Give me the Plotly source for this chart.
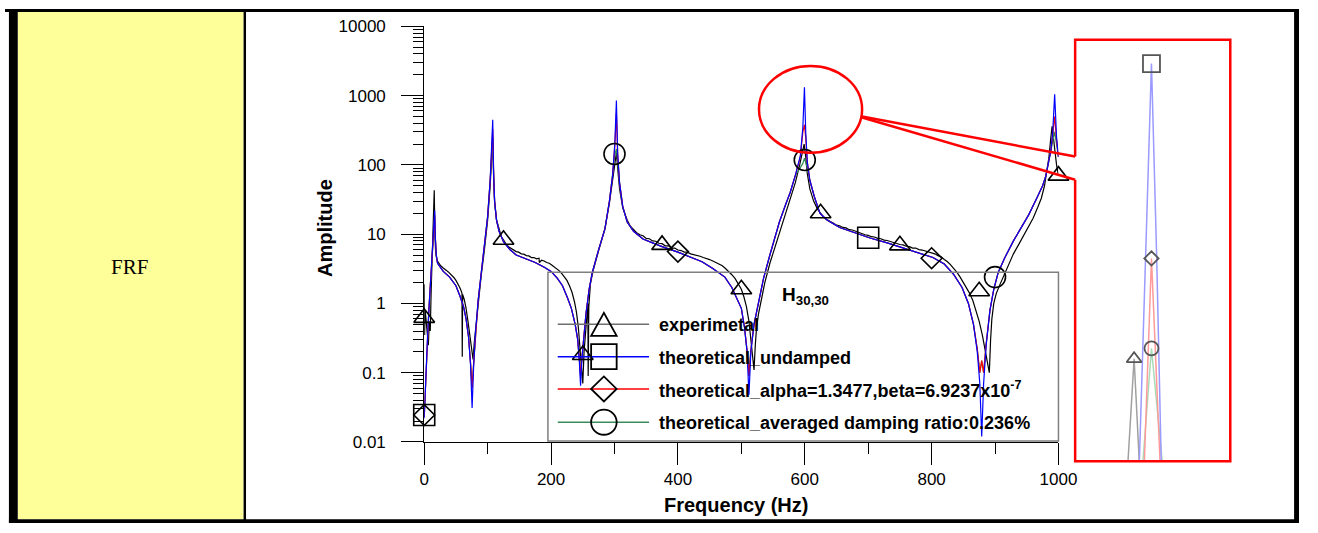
import plotly.graph_objects as go

W, H = 1318, 533

# ---------------- data ----------------
exp_f = [0, 0.6, 1.5, 3, 5, 6.5, 8, 9.5, 11, 13, 14.5, 15.8, 16.8, 18, 20, 23, 26, 29, 32, 35,
         38, 41, 44, 47, 50, 53, 56, 58.5, 59.5, 60, 60.5, 63, 66, 69, 72, 75, 77, 79, 82, 86,
         90, 95, 100, 104, 106.5, 108, 109.5, 111, 114, 118, 122, 125, 129, 133, 137, 141, 145, 149,
         153, 157, 161, 165, 169, 173, 177, 181, 181.5, 185, 189, 193, 197, 201, 205, 209, 213, 217,
         221, 225, 229, 233, 237, 240, 243, 246, 248.5, 250, 252, 255, 258, 258.5, 259.5, 262, 266,
         275, 285, 292, 297, 300.5, 303, 305, 308, 313, 320, 325, 330, 335, 340, 345, 350, 355, 360,
         365, 370, 375, 380, 385, 390, 395, 400, 405, 410, 415, 420, 425, 430, 435, 440, 445, 450,
         455, 460, 465, 470, 475, 480, 485, 490, 495, 500, 504, 508, 512, 515, 518, 520, 522, 524,
         527, 531, 537, 545, 555, 565, 575, 585, 592, 596, 599, 601.5, 604, 608, 614, 620, 624, 628,
         632, 636, 640, 645, 650, 655, 660, 665, 670, 675, 680, 685, 690, 695, 700, 705, 710, 715,
         720, 725, 730, 735, 740, 745, 750, 755, 760, 765, 770, 775, 780, 785, 790, 795, 800, 805,
         810, 815, 820, 825, 830, 835, 840, 845, 850, 855, 860, 865, 870, 875, 880, 884, 888, 891,
         893, 895, 898, 902, 908, 915, 922, 929, 937, 945, 953, 960, 967, 973, 978, 982, 985, 988,
         990, 992, 994, 997, 1000]
exp_a = [1.9, 0.35, 0.8, 0.55, 0.3, 0.25, 0.55, 0.4, 1.6, 5, 15, 43, 10, 5.5, 4.2, 3.8, 3.5, 3.3, 3.1, 3.0,
         2.85, 2.7, 2.55, 2.35, 2.15, 1.95, 1.7, 1.5, 1.4, 0.17, 1.35, 1.15, 0.85, 0.55, 0.33, 0.2, 0.155, 0.28, 0.55, 1.2,
         2.6, 6, 16, 50, 130, 250, 60, 28, 16, 11.5, 9, 8.3, 7.2, 6.6, 6.2, 5.9, 5.6, 5.5,
         5.2, 5.15, 4.9, 4.85, 4.6, 4.6, 4.4, 4.5, 3.9, 4.2, 4.1, 3.9, 3.8, 3.6, 3.4, 3.2, 2.95, 2.7,
         2.45, 2.15, 1.8, 1.45, 1.05, 0.75, 0.45, 0.22, 0.1, 0.07, 0.2, 0.5, 1.0, 0.09, 0.9, 1.9, 2.9,
         5.8, 12, 28, 60, 120, 150, 90, 45, 24, 16, 13, 11.5, 10.5, 9.8, 9.5, 8.7, 8.6, 8,
         7.9, 7.4, 7.3, 6.8, 6.8, 6.3, 6.3, 5.9, 5.8, 5.5, 5.5, 5.2, 5.1, 4.9, 4.8, 4.6, 4.5, 4.3,
         4.1, 3.9, 3.7, 3.5, 3.2, 2.9, 2.6, 2.3, 1.95, 1.6, 1.25, 0.9, 0.55, 0.3, 0.16, 0.11, 0.25, 0.45,
         0.7, 1.1, 2.0, 3.8, 7.5, 14, 28, 55, 100, 150, 200, 130, 75, 45, 30, 23, 20.5, 18.5,
         17, 16, 15.2, 14.5, 13.5, 13.2, 12.5, 12.3, 11.6, 11.5, 11, 10.6, 10.3, 9.8, 9.6, 9.2, 9.1, 8.7,
         8.6, 8.2, 8.1, 7.8, 7.6, 7.3, 7.1, 7.0, 6.7, 6.6, 6.3, 6.3, 6.0, 5.9, 5.7, 5.6, 5.3, 5.2,
         4.9, 4.7, 4.3, 4.0, 3.6, 3.2, 2.8, 2.4, 2.0, 1.7, 1.4, 1.1, 0.8, 0.55, 0.35, 0.22, 0.14, 0.1,
         0.3, 0.6, 1.0, 1.4, 1.9, 2.7, 3.8, 5.2, 7, 9.5, 13, 17, 24, 33, 50, 80, 130, 250,
         360, 250, 160, 100, 70]

theo_f = [0, 1, 3, 5, 7, 9, 11, 13, 15, 16.5, 17.5, 19, 21, 25, 30, 40, 50, 56, 62, 66,
          70, 73, 75.5, 78, 81, 85, 90, 95, 100, 104, 106.5, 108, 109.5, 111, 114, 118, 125, 135, 145, 160,
          175, 190, 200, 210, 218, 226, 232, 238, 242, 244.5, 246.5, 248.5, 251, 255, 260, 265, 275, 285, 292, 297,
          300.5, 303, 305, 308, 313, 320, 330, 345, 360, 375, 400, 420, 438, 455, 474, 485, 493, 500, 505, 509,
          512, 515, 520, 526, 535, 545, 551, 560, 570, 577, 585, 593, 597, 599.5, 601.5, 604, 608, 615, 624, 635,
          655, 680, 703, 730, 751, 775, 802, 820, 835, 848, 858, 866, 872, 876, 879, 882, 886, 892, 898, 905,
          915, 929, 940, 953, 965, 975, 980, 985, 988, 991, 994, 997, 1000]
undamped_a = [0.022, 0.04, 0.12, 0.3, 0.7, 1.5, 3, 6, 12, 22, 9, 5, 3.8, 3.3, 2.9, 2.4, 1.8, 1.3, 0.9, 0.6,
              0.32, 0.13, 0.031, 0.13, 0.4, 1.1, 2.8, 6.5, 18, 60, 180, 450, 70, 30, 16, 11, 7.8, 6, 5, 4.4,
              3.9, 3.3, 2.9, 2.3, 1.8, 1.2, 0.85, 0.5, 0.3, 0.15, 0.065, 0.15, 0.3, 0.7, 1.6, 2.8, 6, 12, 30, 70,
              200, 850, 150, 55, 25, 15, 11, 8.5, 7.5, 6.6, 5.5, 4.6, 4, 3.2, 2.4, 1.7, 1.2, 0.85, 0.45, 0.2,
              0.048, 0.2, 0.5, 0.95, 2.3, 5, 8, 15, 27, 40, 70, 135, 350, 1320, 300, 110, 60, 35, 20, 16,
              12.5, 10.5, 8.8, 7.5, 6.5, 5.6, 4.6, 3.7, 2.6, 1.7, 1.0, 0.5, 0.2, 0.07, 0.012, 0.07, 0.25, 0.8, 1.6, 2.8,
              4.5, 8, 12, 19, 32, 50, 69, 110, 160, 300, 1050, 250, 130]
damped_a = [0.023, 0.04, 0.12, 0.3, 0.7, 1.5, 3, 6, 11.5, 19, 9, 5, 3.8, 3.3, 2.9, 2.4, 1.8, 1.3, 0.9, 0.6,
            0.32, 0.14, 0.06, 0.14, 0.4, 1.1, 2.8, 6.5, 18, 60, 170, 330, 70, 30, 16, 11, 7.8, 6, 5, 4.4,
            3.9, 3.3, 2.9, 2.3, 1.8, 1.2, 0.85, 0.5, 0.3, 0.16, 0.09, 0.16, 0.3, 0.7, 1.6, 2.8, 6, 12, 30, 70,
            190, 560, 140, 55, 25, 15, 11, 8.5, 7.5, 6.6, 5.5, 4.6, 4, 3.2, 2.4, 1.7, 1.2, 0.85, 0.45, 0.21,
            0.09, 0.21, 0.5, 0.95, 2.3, 5, 8, 15, 27, 40, 70, 130, 300, 380, 250, 110, 60, 35, 20, 16,
            12.5, 10.5, 8.8, 7.5, 6.5, 5.6, 4.6, 3.7, 2.6, 1.7, 1.0, 0.5, 0.22, 0.1, 0.15, 0.1, 0.26, 0.8, 1.6, 2.8,
            4.5, 8, 12, 19, 32, 50, 69, 110, 160, 280, 500, 230, 130]
avg_a = [0.023, 0.04, 0.12, 0.3, 0.7, 1.5, 3, 6, 11, 17, 9, 5, 3.8, 3.3, 2.9, 2.4, 1.8, 1.3, 0.9, 0.6,
         0.32, 0.14, 0.06, 0.14, 0.4, 1.1, 2.8, 6.5, 18, 60, 150, 230, 70, 30, 16, 11, 7.8, 6, 5, 4.4,
         3.9, 3.3, 2.9, 2.3, 1.8, 1.2, 0.85, 0.5, 0.3, 0.16, 0.09, 0.16, 0.3, 0.7, 1.6, 2.8, 6, 12, 30, 70,
         140, 170, 110, 55, 25, 15, 11, 8.5, 7.5, 6.6, 5.5, 4.6, 4, 3.2, 2.4, 1.7, 1.2, 0.85, 0.45, 0.21,
         0.09, 0.21, 0.5, 0.95, 2.3, 5, 8, 15, 27, 40, 70, 90, 105, 125, 110, 90, 60, 35, 20, 16,
         12.5, 10.5, 8.8, 7.5, 6.5, 5.6, 4.6, 3.7, 2.6, 1.7, 1.0, 0.5, 0.22, 0.1, 0.15, 0.1, 0.26, 0.8, 1.6, 2.8,
         4.5, 8, 12, 19, 32, 50, 69, 110, 160, 220, 300, 200, 130]

# sparse symbols drawn on each series
exp_mk_f = [0, 125, 250, 375, 500, 625, 750, 875, 1000]
exp_mk_a = [0.62, 8.3, 0.18, 7.0, 1.6, 20, 6.9, 1.5, 70]
und_mk_f = [0, 700]
und_mk_a = [0.0245, 8.9]
dmp_mk_f = [0, 400, 800]
dmp_mk_a = [0.0245, 5.6, 4.5]
avg_mk_f = [300, 600, 900]
avg_mk_a = [144, 118, 2.4]

# zoomed inset around the 600 Hz peak
ins_und_f = [599.411, 599.454, 599.492, 599.525, 599.557]
ins_und_a = [40, 264, 1320, 264, 40]
ins_dmp_f = [599.443, 599.492, 599.551]
ins_dmp_a = [40, 253, 40]
ins_avg_f = [599.430, 599.492, 599.570]
ins_avg_a = [40, 118, 40]
ins_exp_f = [599.335, 599.380, 599.418]
ins_exp_a = [40, 108, 40]

y_tickvals = [0.01, 0.1, 1, 10, 100, 1000, 10000]
y_ticktext = ["0.01", "0.1", "1", "10", "100", "1000", "10000"]
x_tickvals = [0, 200, 400, 600, 800, 1000]
x_ticktext = ["0", "200", "400", "600", "800", "1000"]

legend_names = ["experimetal", "theoretical_undamped",
                "theoretical_alpha=1.3477,beta=6.9237x10<sup>-7</sup>",
                "theoretical_averaged damping ratio:0.236%"]
legend_colors = ["#6e6e6e", "#0000ff", "#ff0000", "#3a8c5c"]

SANS = "Liberation Sans, Arial, sans-serif"
SERIF = "Liberation Serif, Times New Roman, serif"


def px(x):
    return x / W


def py(y):
    return 1 - y / H


fig = go.Figure()

# main curves
fig.add_trace(go.Scatter(x=exp_f, y=exp_a, mode="lines", line=dict(color="black", width=1.2),
                         xaxis="x", yaxis="y", showlegend=False))
fig.add_trace(go.Scatter(x=theo_f, y=avg_a, mode="lines", line=dict(color="#2e8b57", width=1.2),
                         showlegend=False))
fig.add_trace(go.Scatter(x=theo_f, y=damped_a, mode="lines", line=dict(color="red", width=1.2),
                         showlegend=False))
fig.add_trace(go.Scatter(x=theo_f, y=undamped_a, mode="lines", line=dict(color="#0000ff", width=1.2),
                         showlegend=False))

mk_line = dict(color="black", width=1.6)
fig.add_trace(go.Scatter(x=exp_mk_f, y=exp_mk_a, mode="markers", cliponaxis=False, showlegend=False,
                         marker=dict(symbol="triangle-up-open", size=18, color="black", line=mk_line)))
fig.add_trace(go.Scatter(x=und_mk_f, y=und_mk_a, mode="markers", cliponaxis=False, showlegend=False,
                         marker=dict(symbol="square-open", size=21, color="black", line=mk_line)))
fig.add_trace(go.Scatter(x=dmp_mk_f, y=dmp_mk_a, mode="markers", cliponaxis=False, showlegend=False,
                         marker=dict(symbol="diamond-open", size=16, color="black", line=mk_line)))
fig.add_trace(go.Scatter(x=avg_mk_f, y=avg_mk_a, mode="markers", cliponaxis=False, showlegend=False,
                         marker=dict(symbol="circle-open", size=21, color="black", line=mk_line)))

# inset traces
ins_kw = dict(xaxis="x2", yaxis="y2", showlegend=False)
fig.add_trace(go.Scatter(x=ins_exp_f, y=ins_exp_a, mode="lines", line=dict(color="#a0a0a0", width=1.5), **ins_kw))
fig.add_trace(go.Scatter(x=ins_avg_f, y=ins_avg_a, mode="lines", line=dict(color="#a8dcb8", width=1.5), **ins_kw))
fig.add_trace(go.Scatter(x=ins_dmp_f, y=ins_dmp_a, mode="lines", line=dict(color="#ff9a9a", width=1.5), **ins_kw))
fig.add_trace(go.Scatter(x=ins_und_f, y=ins_und_a, mode="lines", line=dict(color="#9a9aff", width=1.5), **ins_kw))
ins_mk = dict(color="#555555", width=1.8)
fig.add_trace(go.Scatter(x=[ins_und_f[2]], y=[ins_und_a[2]], mode="markers", cliponaxis=False,
                         marker=dict(symbol="square-open", size=17, color="#555555", line=ins_mk), **ins_kw))
fig.add_trace(go.Scatter(x=[ins_dmp_f[1]], y=[ins_dmp_a[1]], mode="markers", cliponaxis=False,
                         marker=dict(symbol="diamond-open", size=11, color="#555555", line=ins_mk), **ins_kw))
fig.add_trace(go.Scatter(x=[ins_avg_f[1]], y=[ins_avg_a[1]], mode="markers", cliponaxis=False,
                         marker=dict(symbol="circle-open", size=14, color="#555555", line=ins_mk), **ins_kw))
fig.add_trace(go.Scatter(x=[ins_exp_f[1]], y=[ins_exp_a[1]], mode="markers", cliponaxis=False,
                         marker=dict(symbol="triangle-up-open", size=13, color="#555555", line=ins_mk), **ins_kw))

minor_y = [k * 10 ** d for d in range(-2, 4) for k in range(2, 10)]

shapes = []
# table-like frame
shapes.append(dict(type="rect", xref="paper", yref="paper", x0=px(13), x1=px(243), y0=py(529), y1=py(3),
                   fillcolor="#FFFF99", line=dict(width=0), layer="below"))
for (x0, y0, x1, y1) in [(0, 0, 1318, 3), (4, 0, 13, 533), (1313, 0, 1318, 533), (4, 529, 1318, 533),
                         (243, 0, 245.5, 533)]:
    shapes.append(dict(type="rect", xref="paper", yref="paper", x0=px(x0), x1=px(x1), y0=py(y1), y1=py(y0),
                       fillcolor="black", line=dict(width=0), layer="below"))

# legend box
shapes.append(dict(type="rect", xref="paper", yref="paper", x0=px(553), x1=px(1073), y0=py(448), y1=py(273),
                   line=dict(color="#7f7f7f", width=1.5), fillcolor="rgba(0,0,0,0)"))
rows = [327, 360.5, 394, 428.5]
for ry, col in zip(rows, legend_colors):
    shapes.append(dict(type="line", xref="paper", yref="paper", x0=px(563), x1=px(656), y0=py(ry), y1=py(ry),
                       line=dict(color=col, width=1.5)))
sym = dict(color="black", width=1.8)
cx = 610
r = 13
shapes.append(dict(type="path", xref="paper", yref="paper",
                   path=f"M{px(cx - r)},{py(rows[0] + 12)} L{px(cx + r)},{py(rows[0] + 12)} L{px(cx)},{py(rows[0] - 12)} Z",
                   line=sym))
shapes.append(dict(type="rect", xref="paper", yref="paper", x0=px(cx - r), x1=px(cx + r),
                   y0=py(rows[1] + r), y1=py(rows[1] - r), line=sym))
shapes.append(dict(type="path", xref="paper", yref="paper",
                   path=f"M{px(cx - r)},{py(rows[2])} L{px(cx)},{py(rows[2] - r)} L{px(cx + r)},{py(rows[2])} L{px(cx)},{py(rows[2] + r)} Z",
                   line=sym))
shapes.append(dict(type="circle", xref="paper", yref="paper", x0=px(cx - r), x1=px(cx + r),
                   y0=py(rows[3] + r), y1=py(rows[3] - r), line=sym))

# callout
red = dict(color="#ff0000", width=2.5)
shapes.append(dict(type="circle", xref="paper", yref="paper", x0=px(768), x1=px(873), y0=py(149), y1=py(59),
                   line=red))
shapes.append(dict(type="line", xref="paper", yref="paper", x0=px(873), y0=py(111.5), x1=px(1090), y1=py(153),
                   line=red))
shapes.append(dict(type="line", xref="paper", yref="paper", x0=px(873), y0=py(112.5), x1=px(1090), y1=py(177),
                   line=red))
shapes.append(dict(type="path", xref="paper", yref="paper",
                   path=(f"M{px(1090)},{py(153)} L{px(1090)},{py(32)} L{px(1248)},{py(32)} "
                         f"L{px(1248)},{py(469)} L{px(1090)},{py(469)} L{px(1090)},{py(177)}"),
                   line=red))

annotations = []


def note(x, y, text, size, family=SANS, xanchor="center", angle=0):
    annotations.append(dict(xref="paper", yref="paper", x=px(x), y=py(y), text=text, showarrow=False,
                            xanchor=xanchor, yanchor="middle", textangle=angle,
                            font=dict(family=family, size=size, color="black")))


note(127, 268, "FRF", 21, family=SERIF)
note(745, 514, "<b>Frequency (Hz)</b>", 20)
note(326, 227, "<b>Amplitude</b>", 20, angle=-90)
note(789, 298, "<b>H<sub>30,30</sub></b>", 19, xanchor="left")
for ry, name in zip(rows, legend_names):
    note(664, ry + 1, f"<b>{name}</b>", 18, xanchor="left")

fig.update_layout(
    width=W, height=H, autosize=False,
    margin=dict(l=0, r=0, t=0, b=0, pad=0),
    paper_bgcolor="white", plot_bgcolor="rgba(0,0,0,0)",
    showlegend=False,
    font=dict(family=SANS, color="black"),
    xaxis=dict(domain=[px(427), px(1073)], range=[0, 1000], anchor="y",
               showline=True, linecolor="black", linewidth=1, showgrid=False, zeroline=False,
               ticks="outside", ticklen=22, tickwidth=1, tickcolor="black",
               tickmode="array", tickvals=x_tickvals, ticktext=x_ticktext,
               tickfont=dict(family=SANS, size=17, color="black"), ticklabelstandoff=0,
               minor=dict(tickmode="array", tickvals=[100, 300, 500, 700, 900], ticks="outside",
                          ticklen=11, tickcolor="black", tickwidth=1)),
    yaxis=dict(domain=[py(449), py(18)], type="log", range=[-2, 4], anchor="x",
               showline=True, linecolor="black", linewidth=1, showgrid=False, zeroline=False,
               ticks="outside", ticklen=22, tickwidth=1, tickcolor="black",
               tickmode="array", tickvals=y_tickvals, ticktext=y_ticktext,
               tickfont=dict(family=SANS, size=17, color="black"), ticklabelstandoff=12,
               minor=dict(tickmode="array", tickvals=minor_y, ticks="outside",
                          ticklen=10, tickcolor="black", tickwidth=1)),
    xaxis2=dict(domain=[px(1090), px(1248)], range=[599.0, 600.0], anchor="y2", visible=False),
    yaxis2=dict(domain=[py(469), py(32)], type="log", range=[1.656, 3.208], anchor="x2", visible=False),
    shapes=shapes,
    annotations=annotations,
)

fig.write_html(
    "out.html",
    config={"displayModeBar": False, "responsive": False},
    post_script=(
        "document.documentElement.style.margin='0';document.documentElement.style.padding='0';"
        "document.documentElement.style.overflow='hidden';"
        "document.body.style.margin='0';document.body.style.padding='0';"
        "document.body.style.overflow='hidden';"
        "var gd=document.getElementById('{plot_id}');"
        "gd.style.position='fixed';gd.style.left='0px';gd.style.top='0px';"
    ),
)
